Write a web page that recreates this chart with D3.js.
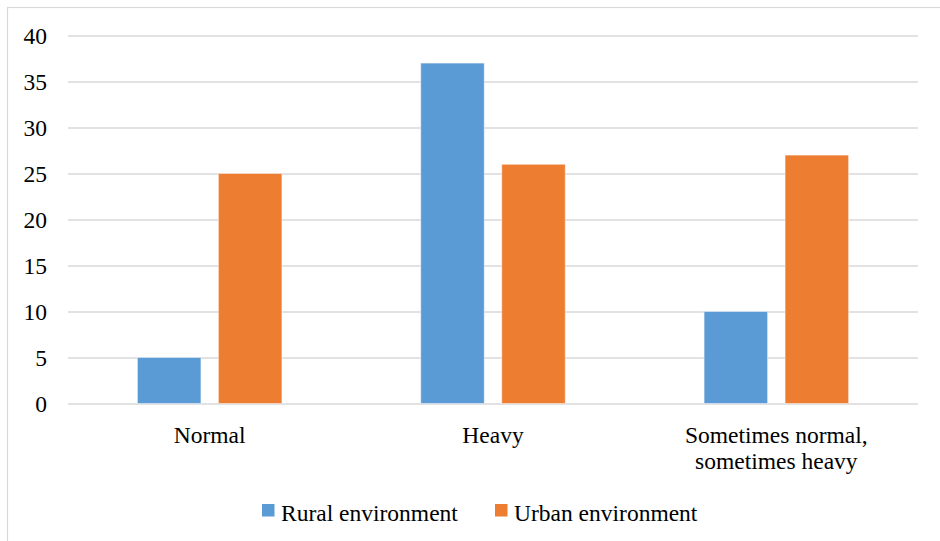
<!DOCTYPE html>
<html>
<head>
<meta charset="utf-8">
<script src="https://cdn.jsdelivr.net/npm/d3@7"></script>
</head>
<body style="margin:0">
<svg id="chart" width="940" height="541"></svg>
<script>
// Chart data
const categories = ["Normal", "Heavy", "Sometimes normal,\nsometimes heavy"];
const seriesNames = ["Rural environment", "Urban environment"];
const ruralValues = [5, 37, 10];
const urbanValues = [25, 26, 27];
const yTicks = [0, 5, 10, 15, 20, 25, 30, 35, 40];
const seriesColors = ["#5B9BD5", "#ED7D31"];

const seriesValues = [ruralValues, urbanValues];
const rows = categories.map((c, i) => ({
  category: c,
  values: seriesNames.map((s, j) => ({ series: s, value: seriesValues[j][i], color: seriesColors[j] }))
}));

const svg = d3.select("#chart");
const plot = { left: 68, right: 918, top: 35.5, bottom: 403.5 };
const labelSize = 23.5;

function styleText(sel) {
  return sel
    .attr("font-size", labelSize)
    .style("font-family", "'Liberation Serif'")
    .attr("fill", "#000");
}

// Outer chart frame
svg.append("rect")
  .attr("x", 7.5).attr("y", 7.5)
  .attr("width", 960).attr("height", 560)
  .attr("fill", "none")
  .attr("stroke", "#D9D9D9")
  .attr("stroke-width", 1.2);

const x = d3.scaleBand()
  .domain(categories)
  .range([plot.left, plot.right])
  .padding(0);

const xSub = d3.scaleBand()
  .domain(seriesNames)
  .range([-72.25, 72.25])
  .paddingInner(0.216)
  .paddingOuter(0);

const y = d3.scaleLinear()
  .domain([0, 40])
  .range([plot.bottom, plot.top]);

// Y axis with gridlines
const yAxis = d3.axisLeft(y)
  .tickValues(yTicks)
  .tickSize(-(plot.right - plot.left))
  .tickPadding(21)
  .tickFormat(d3.format("d"));

const yG = svg.append("g")
  .attr("transform", `translate(${plot.left},0)`)
  .call(yAxis);
yG.attr("font-family", null);
yG.select(".domain").remove();
yG.selectAll(".tick line")
  .attr("stroke", "#D9D9D9")
  .attr("stroke-width", 1.3);
styleText(yG.selectAll(".tick text"));

// Bars
const groups = svg.append("g").selectAll("g")
  .data(rows)
  .join("g")
  .attr("transform", d => `translate(${x(d.category) + x.bandwidth() / 2},0)`);

groups.selectAll("rect")
  .data(d => d.values)
  .join("rect")
  .attr("x", d => xSub(d.series))
  .attr("width", xSub.bandwidth())
  .attr("y", d => y(d.value))
  .attr("height", d => y(0) - y(d.value))
  .attr("fill", d => d.color)
  .attr("stroke", "rgba(255,255,255,0.45)")
  .attr("stroke-width", 1);

// Category labels (multi-line)
const xLabels = svg.append("g").selectAll("text")
  .data(categories)
  .join("text")
  .attr("x", d => x(d) + x.bandwidth() / 2)
  .attr("y", 443)
  .attr("text-anchor", "middle");
styleText(xLabels);
xLabels.each(function(d) {
  const t = d3.select(this);
  d.split("\n").forEach((line, i) => {
    t.append("tspan")
      .attr("x", x(d) + x.bandwidth() / 2)
      .attr("dy", i === 0 ? 0 : 25.7)
      .text(line);
  });
});

// Legend
const legendX = [262, 495];
const legend = svg.append("g").selectAll("g")
  .data(seriesNames)
  .join("g")
  .attr("transform", (d, i) => `translate(${legendX[i]},0)`);
legend.append("rect")
  .attr("x", 0).attr("y", 504)
  .attr("width", 12.5).attr("height", 12.5)
  .attr("fill", (d, i) => seriesColors[i]);
styleText(legend.append("text")
  .attr("x", 19)
  .attr("y", 520.7)
  .text(d => d));
</script>
</body>
</html>
